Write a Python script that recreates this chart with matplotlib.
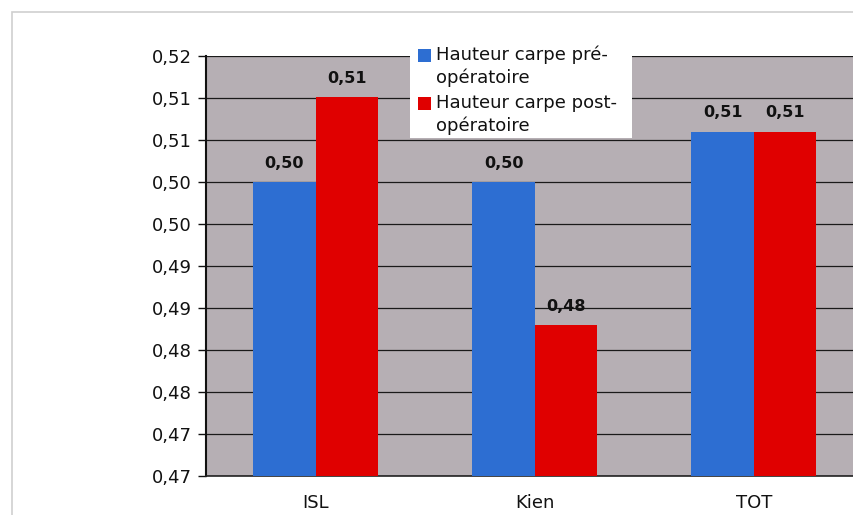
import math
import numpy as np
import matplotlib
matplotlib.use("Agg")
import matplotlib.pyplot as plt
from matplotlib.patches import Rectangle

# values per group
categories = ["ISL", "Kien", "TOT"]
pre_op = [0.505, 0.505, 0.511]
post_op = [0.5151, 0.488, 0.511]
series_names = ["Hauteur carpe pré-\nopératoire", "Hauteur carpe post-\nopératoire"]
y_ticks = [0.470, 0.475, 0.480, 0.485, 0.490, 0.495, 0.500, 0.505, 0.510, 0.515, 0.520]

BLUE = "#2d6ed2"
RED = "#e00000"
PLOT_BG = "#b6afb4"

W, H = 854, 515


def fx(px):
    return px / W


def fy(py):
    return 1 - py / H


def fmt(v):
    # two decimals, truncated, with a decimal comma
    return f"{math.floor(v * 100 + 1e-6) / 100:.2f}".replace(".", ",")


plt.rcParams["font.family"] = ["DejaVu Sans"]

fig = plt.figure(figsize=(W / 100, H / 100), dpi=100)
fig.patch.set_facecolor("white")

# outer frame (runs off the bottom and right edges)
fig.add_artist(Rectangle((fx(12), fy(530)), fx(900) - fx(12), fy(12) - fy(530),
                         transform=fig.transFigure, fill=False,
                         edgecolor="#cfcfcf", linewidth=1.2))

ax = fig.add_axes([fx(206), fy(476), fx(863.5) - fx(206), fy(56) - fy(476)])
ax.set_facecolor(PLOT_BG)

x = np.arange(len(categories))
bw = 0.285
b1 = ax.bar(x - bw / 2, pre_op, bw, color=BLUE, zorder=3)
b2 = ax.bar(x + bw / 2, post_op, bw, color=RED, zorder=3)

for bars, vals in ((b1, pre_op), (b2, post_op)):
    for rect, v in zip(bars, vals):
        ax.annotate(fmt(v), (rect.get_x() + rect.get_width() / 2, v),
                    xytext=(0, 8), textcoords="offset points",
                    ha="center", va="bottom", fontsize=11.5,
                    fontweight="bold", color="#111111", zorder=5)

ax.set_xlim(-0.5, 2.5)
ax.set_ylim(0.47, 0.52)
ax.set_yticks(y_ticks)
ax.set_yticklabels([fmt(t) for t in y_ticks])
ax.set_xticks(x)
ax.set_xticklabels(categories)
ax.yaxis.grid(True, color="#1a1a1a", linewidth=0.9, zorder=1)
ax.set_axisbelow(True)

ax.tick_params(axis="y", length=6, width=1, pad=4, labelsize=13, colors="#111111")
ax.tick_params(axis="x", length=0, pad=13, labelsize=13, colors="#111111")
for side in ("top", "right"):
    ax.spines[side].set_visible(False)
ax.spines["left"].set_linewidth(1.5)
ax.spines["left"].set_color("#111111")
ax.spines["bottom"].set_linewidth(1.2)
ax.spines["bottom"].set_color("#222222")

# legend box
fig.add_artist(Rectangle((fx(410), fy(138)), fx(632) - fx(410), fy(44) - fy(138),
                         transform=fig.transFigure, facecolor="white",
                         edgecolor="none", zorder=10))
for i, (name, col) in enumerate(zip(series_names, [BLUE, RED])):
    top = 48 + i * 48
    fig.add_artist(Rectangle((fx(418), fy(top + 14)), fx(13), fy(0) - fy(13),
                             transform=fig.transFigure, facecolor=col,
                             edgecolor="none", zorder=11))
    fig.text(fx(436), fy(top - 2), name, ha="left", va="top", fontsize=13,
             color="#111111", linespacing=1.3, zorder=12)

fig.savefig("out.png", dpi=100, facecolor=fig.get_facecolor())
